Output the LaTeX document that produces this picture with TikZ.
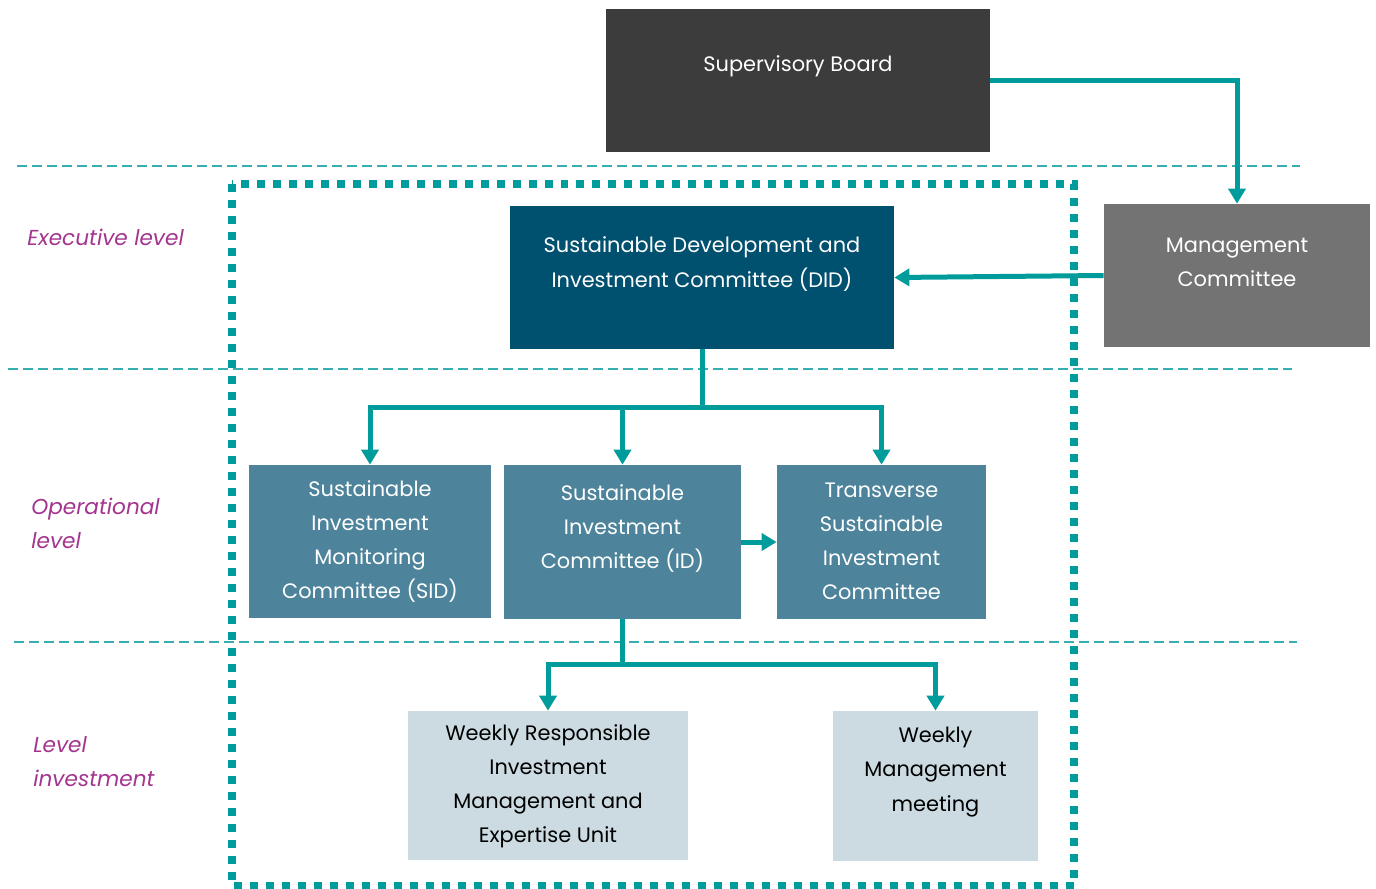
\documentclass[tikz,border=0pt]{standalone}
\usepackage{fontspec}
\setmainfont{Poppins}
\usepackage{xcolor}
\usepackage{tikz}
\usetikzlibrary{shapes,arrows,arrows.meta,positioning,calc,fit}

\definecolor{linkteal}{HTML}{009B9B}
\definecolor{septeal}{HTML}{35AFAF}
\definecolor{boardgray}{HTML}{3C3C3C}
\definecolor{mgmtgray}{HTML}{737373}
\definecolor{didblue}{HTML}{00506F}
\definecolor{opblue}{HTML}{4D849B}
\definecolor{invblue}{HTML}{CCDBE2}
\definecolor{lvlpurple}{HTML}{A3358F}

\begin{document}
\begin{tikzpicture}[x=0.02cm, y=-0.02cm, >={Triangle[width=0.34cm,length=0.3cm]}]
\tikzset{
block/.style    = {draw=none, inner sep=0pt, shape=rectangle},
boxtext/.style  = {align=center, inner sep=0pt, font=\fontsize{11.9pt}{19.4pt}\selectfont},
lvl/.style      = {anchor=west, align=left, inner sep=0pt, text=lvlpurple, font=\fontsize{12.3pt}{19.4pt}\selectfont\itshape},
sep/.style      = {septeal, line width=0.03cm, dash pattern=on 0.2cm off 0.1cm},
link/.style     = {linkteal, line width=0.1cm},
coord/.style    = {coordinate},
}
    \useasboundingbox (0,0) rectangle (1376,889);

    % Level separators
    \draw [sep] (17,166) -- (1300,166);
    \draw [sep] (8,369)  -- (1292,369);
    \draw [sep] (14,642) -- (1297,642);

    % Perimeter
    \draw [linkteal, line width=0.16cm, dash pattern=on 0.16cm off 0.16cm] (232,184) rectangle (1074,886);

    % Level labels
    \node [lvl] (exec_lvl) at (27,237)   {Executive level};
    \node [lvl] (op_lvl)   at (31,523.5) {Operational\\level};
    \node [lvl] (inv_lvl)  at (33,761.5) {Level\\investment};

    % Top nodes
    \node [block, fill=boardgray, fit={(606,9) (990,152)}]    (board) {};
    \node [boxtext, text=white] (board_txt) at (798,66)   {Supervisory Board};
    \node [block, fill=mgmtgray, fit={(1104,204) (1370,347)}] (mgmt)  {};
    \node [boxtext, text=white] (mgmt_txt)  at (1237,262) {Management\\Committee};
    \node [block, fill=didblue, fit={(510,206) (894,349)}]    (did)   {};
    \node [boxtext, text=white] (did_txt)   at (702,264)  {Sustainable Development and\\Investment Committee (DID)};

    % Operational nodes
    \node [block, fill=opblue, fit={(249,465) (491,618)}]     (sid)   {};
    \node [boxtext, text=white] (sid_txt)   at (370,541.5) {Sustainable\\Investment\\Monitoring\\Committee (SID)};
    \node [block, fill=opblue, fit={(504,465) (741,619)}]     (id)    {};
    \node [boxtext, text=white] (id_txt)    at (622.5,528.5) {Sustainable\\Investment\\Committee (ID)};
    \node [block, fill=opblue, fit={(777,465) (986,619)}]     (trans) {};
    \node [boxtext, text=white] (trans_txt) at (881.5,541) {Transverse\\Sustainable\\Investment\\Committee};

    % Investment nodes
    \node [block, fill=invblue, fit={(408,711) (688,860)}]    (weekly_unit) {};
    \node [boxtext, text=black] (unit_txt)  at (548,786.5) {Weekly Responsible\\Investment\\Management and\\Expertise Unit};
    \node [block, fill=invblue, fit={(833,711) (1038,861)}]   (weekly_mgmt) {};
    \node [boxtext, text=black] (wm_txt)    at (935.5,772) {Weekly\\Management\\meeting};

    % Top edges
    \draw [link, ->] (board.east) -| (mgmt.north);
    \draw [link, ->] (mgmt.west) -- (did.east);

    % Operational edges
    \node [coord] (did_tee) at (702,407) {};
    \draw [link] (did.south) -- (did_tee);
    \draw [link, ->] (did_tee) -| (sid.north);
    \draw [link, ->] (did_tee) -| (id.north);
    \draw [link, ->] (did_tee) -| (trans.north);
    \draw [link, ->] (id.east) -- (trans.west);

    % Investment edges
    \node [coord] (id_tee) at (622.5,664) {};
    \draw [link] (id.south) -- (id_tee);
    \draw [link, ->] (id_tee) -| (weekly_unit.north);
    \draw [link, ->] (id_tee) -| (weekly_mgmt.north);

\end{tikzpicture}
\end{document}
